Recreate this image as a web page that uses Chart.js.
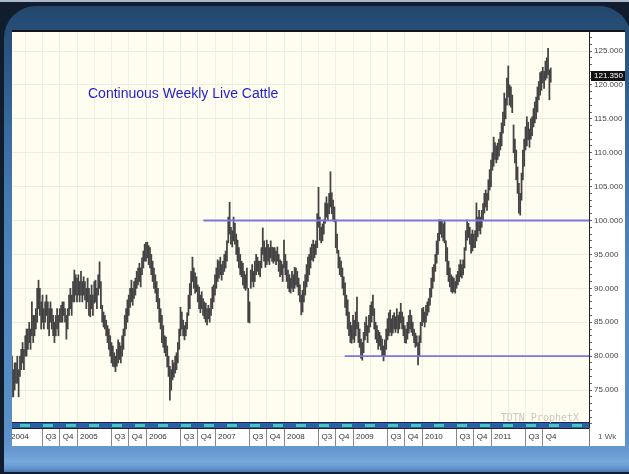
<!DOCTYPE html>
<html>
<head>
<meta charset="utf-8">
<script src="https://cdn.jsdelivr.net/npm/chart.js@4/dist/chart.umd.min.js"></script>
<style>
  html, body { margin: 0; padding: 0; background: #101b2a; }
  #slide { position: relative; width: 629px; height: 474px; overflow: hidden; background: #111c2c; }
  #panel { position: absolute; left: 4px; top: 6px; width: 627px; height: 466px;
           border-radius: 32px 32px 0 0;
           background: linear-gradient(to bottom, #23476c 0px, #26507b 30px, #3a6ca3 130px, #4f86bf 260px,
                                       #5b90c8 430px, #6699cf 445px, #77a8dc 456px, #6396cc 462px, #4677b0 466px); }
  #topline { position: absolute; left: 0; top: 0; width: 629px; height: 2px; background: #a9b9c9; }
  #c { position: absolute; left: 12px; top: 30px; }
</style>
</head>
<body>
<div id="slide">
  <div id="panel"></div>
  <div id="topline"></div>
  <canvas id="c" width="613" height="416"></canvas>
</div>
<script>
// ---------- text ----------
const titleText = 'Continuous Weekly Live Cattle';
const watermarkText = 'TDTN ProphetX';
const periodText = '1 Wk';

// ---------- categories (weekly bars) ----------
const firstYear = 2004;
const firstWeek = 3;          // week number of the first bar within 2004
const weeksPerYear = 52;
const tickYears = [2004, 2005, 2006, 2007, 2008, 2009, 2010, 2011];
const quarterNames = ['', '', 'Q3', 'Q4'];   // Q1 shows the year, Q2 has no label

// ---------- weekly [low, high] ranges ----------
const range2004 = [
  [74,80],[74,78],[75,79],[76,79],[76,80],[74,78],[77,80],[78,81],[79,82],[78,81],
  [80,83],[80,84],[81,84],[82,85],[81,84],[83,88],[82,86],[83,86],[84,87],[85,90],
  [87,91.2],[86,90],[84,88],[85,89],[84,87],[85,88],[86,89],[84,88],[83,87],[85,88],
  [84,87],[83,86],[82,85],[83,86],[84,87],[83,86],[85,87],[85,87.5],[85,88],[86,88],
  [85,87],[82.5,86],[84,87],[86,89],[87,90],[86,89],[88,91],[88,92.7],[89,92]
];
const range2005 = [
  [88,91.5],[89,92],[88,91],[89,92.5],[88,91],[89,91.7],[88.3,91],[87,90],[88,91.5],[86,90],
  [85.8,89],[87,90.5],[86,89],[87.8,91],[88,91.2],[87,90],[89,92],[90,93.9],[87,91],[85,87.5],
  [84.3,86.5],[84,86],[83,85.3],[82,84.5],[81,84],[80,83],[79,82],[78.5,81.5],[78.4,80.5],[77.7,80],
  [78.5,81],[79,82.4],[79.5,82],[79,81.5],[80,83],[81,84],[83,86],[84,87],[85,88.3],[86,89],
  [87.2,90],[88,91.2],[87.5,90],[88.5,91],[89,91.5],[90,92.5],[90.5,93],[91,93.7],[90.2,93],[92,94.5],
  [93,95.5],[94,96.5]
];
const range2006 = [
  [94,96.8],[94.5,96.8],[93.5,96.3],[93,96],[92,95],[91,94],[90,93],[89.3,92],[88,91],[87,90],
  [85,88.5],[84,87],[82,86],[81.3,84.5],[80.5,83],[80,82.8],[78.4,81.5],[77,80],[73.5,78.5],[75,78],
  [76.5,79.4],[76.9,79],[77.5,80],[78,80.5],[79,82],[81,84],[83,87.2],[84,86.5],[83,85.3],[82.4,84.5],
  [83,85],[84,86.4],[86,89],[87,90.7],[89,92.5],[91,94.6],[90,93],[89.3,92.3],[89.5,91.7],[88,90.5],
  [87,90.2],[86.4,89],[87,89.5],[86,88.5],[85.5,88],[85,87.8],[84.6,87],[85.5,87.5],[85,87],[86,88.5],
  [87,90.2],[88,90.5]
];
const range2007 = [
  [89,92],[90,93],[91,94.2],[91.5,94],[92,94.6],[91.2,93.5],[92,94],[92.5,95],[93,95.5],[94,97],
  [96.7,100.5],[98,102.7],[96.5,99],[96.1,98.5],[97,100.5],[96.5,99.6],[95,98],[94,97.1],[93,96],[92,95],
  [91.7,94],[90.5,93.7],[90,92.5],[89.7,92],[90,93],[85,90],[84.9,88],[90,92.7],[91,93.5],[90.2,92.5],
  [91,94],[92,95],[92.5,94.6],[92,94],[91.7,94],[93,96],[95,98.9],[94,97],[93.1,96],[93.5,97.1],
  [94,96.5],[93.5,96],[94.5,97],[94,96.1],[93.7,96],[94,96],[93.5,95.5],[94,96.1],[92.5,95],[91.7,94.2],
  [92,94],[91,93.5]
];
const range2008 = [
  [93,97.1],[92,95],[91,94],[90,92.7],[89.5,92],[89.3,91.5],[90,92.5],[89.5,92],[90,93.1],[90.5,93],
  [90.2,92.5],[89,91.5],[88,90.5],[86.1,89],[86.5,89.7],[88,91],[89,92],[90.2,93.5],[91,94.6],[92,95],
  [93,96],[94.2,96.5],[94,97.1],[94.5,96.5],[95,97],[96,101],[99,104.9],[97.1,100.5],[96.7,99],[97,99.5],
  [98,100.1],[99.6,102.6],[100.5,103.5],[100,102.5],[101,104],[102,107.2],[101,104.1],[100.1,103],[99.8,102],[96,100.1],
  [95.2,98],[93,95.6],[92,94.6],[91.7,94],[90,93],[89,91.7],[87.2,90.8],[86,89],[84,88.3],[83,86.5],
  [82,85],[81.9,84.5]
];
const range2009 = [
  [82.5,86],[82,85.3],[83,86.5],[84,88.7],[82,85],[81.3,84],[79.7,82.5],[79.4,82],[80.5,83.5],[82.4,85],
  [83,85.8],[82,84.5],[83.5,86],[84.3,87.5],[85,88],[86,89],[84,87],[82.5,85],[82,84.5],[81,83.8],
  [81.5,83.5],[80.9,83],[80,82.5],[79.3,81.5],[80,82.4],[81,84],[82.4,85.5],[83,86.4],[83.5,86.8],[83,85.5],
  [83.4,86],[84,86.4],[83.5,85.8],[84,87],[83.4,86],[84,86.5],[84.9,87.8],[84,86.5],[83,85.8],[82,84.5],
  [81.9,84],[82.5,85],[83.4,86],[84,86.8],[83.5,86],[83,85],[82,84],[81.3,83.4],[81.5,83],[78.7,82],
  [80,83],[82,85]
];
const range2010 = [
  [84.5,87],[85,87.2],[84.3,86.5],[85,87.5],[86,88],[86.5,88.5],[87.5,90],[88.7,91.5],[90,93.1],[91,93.5],
  [92.5,95],[93.7,97],[95,98.1],[97,100.1],[98,100.1],[97.5,100],[97,99.5],[96.7,100],[94,97],[92,96],
  [91,94],[90.2,93],[89.5,92],[89.3,91.7],[89.5,91.5],[89.3,91],[90,92],[90.5,92.5],[91,93.5],[91.7,94.2],
  [91.5,93.5],[92,94.2],[93,96],[95.6,98.5],[97.1,100.1],[97.5,99.6],[96.5,99],[95.2,98],[95.5,98.6],[96,98],
  [96,98.5],[97,102.6],[97.6,100.5],[98.5,101.5],[98,100.5],[99,101.5],[100,102.5],[101.1,104],[102,104.5],[101.5,104],
  [103,106],[104.5,107.5]
];
const range2011 = [
  [105,108.9],[107.4,110],[108,112.3],[109,111.5],[108.5,111],[109,111.4],[109.5,112],[110.4,113],[111,114.4],[112.9,116],
  [114,118.8],[115,118],[117,121],[118.2,122.8],[117,120],[116.7,119.7],[115.9,118.5],[110,114.1],[108.5,112],[106,110.4],
  [104,107.9],[101.1,105.5],[100.8,104],[103,107],[106,110.4],[108,112],[110.4,113.8],[111,115.3],[111.9,114.5],[110.8,113.5],
  [112,115],[112.5,115.3],[113.8,116.5],[114.4,117.5],[115,118.2],[116,119.7],[117.8,120.5],[118.5,121.8],[119.2,122],[120.3,122.6],
  [119.5,122],[120.7,123.5],[121,124],[121.5,125.4],[117.8,122.2],[120.4,122.5]
];
const lastClose = 121.35;

// ---------- drawn horizontal levels ----------
const resistancePrice = 100;
const resistanceFrom = 2006.83;   // decimal year where the line starts
const supportPrice = 80;
const supportFrom = 2008.88;

// ---------- axis bounds ----------
const xMin = 2004.058, xMax = 2012.42;
const yMin = 69.4, yMax = 127.95;

// ---------- build datasets ----------
const allRanges = [].concat(range2004, range2005, range2006, range2007, range2008, range2009, range2010, range2011);
const barData = allRanges.map((r, i) => ({ x: firstYear + (firstWeek + i) / weeksPerYear, y: r }));
const quarterTicks = [];
tickYears.forEach(y => { for (let q = 0; q < 4; q++) quarterTicks.push(y + q / 4); });

const frac = v => Math.round((v - Math.floor(v)) * 100) / 100;

const decor = {
  id: 'decor',
  beforeDraw(chart) {
    const { ctx, chartArea: a, width, height } = chart;
    ctx.save();
    ctx.fillStyle = '#ffffff';
    ctx.fillRect(0, 0, width, height);
    ctx.fillStyle = '#fffcf0';
    ctx.fillRect(a.left, a.top, a.right - a.left, a.bottom - a.top);
    ctx.restore();
  },
  beforeDatasetsDraw(chart) {
    const { ctx, chartArea: a } = chart;
    ctx.save();
    // bottom stripe of the plot
    const sy = a.bottom - 6;
    ctx.fillStyle = '#2b5ea6';
    ctx.fillRect(a.left, sy, a.right - a.left, 6);
    ctx.fillStyle = '#46c8c0';
    for (let x = a.left + 8; x < a.right - 4; x += 23) ctx.fillRect(x, sy + 2, 10, 3);
    ctx.fillStyle = '#142a48';
    ctx.fillRect(a.left, sy, a.right - a.left, 1);
    // title
    ctx.font = '14px "Liberation Sans", Arial, sans-serif';
    ctx.fillStyle = '#1f1fd0';
    ctx.textBaseline = 'middle';
    ctx.textAlign = 'left';
    ctx.fillText(titleText, a.left + 76, a.top + 63);
    // watermark
    ctx.font = '10px "DejaVu Sans Mono", monospace';
    ctx.fillStyle = '#cdc8bf';
    ctx.textAlign = 'right';
    ctx.fillText(watermarkText, a.right - 10, a.bottom - 10);
    ctx.restore();
  },
  afterDraw(chart) {
    const { ctx, chartArea: a, width, height } = chart;
    const ys = chart.scales.y;
    ctx.save();
    // top frame line
    ctx.fillStyle = '#151515';
    ctx.fillRect(0, 0, width, 2);
    // last price box
    const py = Math.round(ys.getPixelForValue(lastClose));
    ctx.fillStyle = '#111111';
    ctx.fillRect(a.right + 2, py - 5, width - a.right - 2, 10);
    ctx.fillStyle = '#ffffff';
    ctx.font = '8px "Liberation Sans", Arial, sans-serif';
    ctx.textBaseline = 'middle';
    ctx.textAlign = 'left';
    ctx.fillText(lastClose.toFixed(3), a.right + 5, py);
    // period cell
    ctx.fillStyle = '#777777';
    ctx.fillRect(a.right, a.bottom, 1, height - a.bottom);
    ctx.fillStyle = '#555555';
    ctx.fillText(periodText, a.right + 9, a.bottom + 9);
    ctx.restore();
  }
};

new Chart(document.getElementById('c'), {
  type: 'bar',
  data: {
    datasets: [
      {
        type: 'line',
        data: [{ x: resistanceFrom, y: resistancePrice }, { x: xMax, y: resistancePrice }],
        borderColor: '#7878e4', borderWidth: 1.8, pointRadius: 0, fill: false
      },
      {
        type: 'line',
        data: [{ x: supportFrom, y: supportPrice }, { x: xMax, y: supportPrice }],
        borderColor: '#7878e4', borderWidth: 1.8, pointRadius: 0, fill: false
      },
      {
        type: 'bar',
        data: barData,
        backgroundColor: '#444444',
        borderWidth: 0,
        barThickness: 1.1
      }
    ]
  },
  options: {
    responsive: false,
    animation: false,
    devicePixelRatio: 1,
    layout: { padding: { top: 1, left: 0, right: 0, bottom: 0 } },
    plugins: { legend: { display: false }, tooltip: { enabled: false }, title: { display: false } },
    scales: {
      x: {
        type: 'linear',
        position: 'bottom',
        min: xMin, max: xMax,
        offset: false,
        afterBuildTicks: s => { s.ticks = quarterTicks.map(v => ({ value: v })); },
        afterFit: s => { s.height = 18; s.paddingLeft = 0; s.paddingRight = 0; },
        ticks: {
          autoSkip: false, maxRotation: 0, minRotation: 0,
          align: 'start', labelOffset: 3, padding: -14,
          font: { family: '"Liberation Sans", Arial, sans-serif', size: 8 },
          color: '#333333',
          callback: v => {
            const f = frac(v);
            if (f === 0) return String(Math.round(v));
            return quarterNames[Math.round(f * 4)];
          }
        },
        grid: {
          offset: false,
          drawOnChartArea: true,
          color: '#f2eee2',
          tickLength: 18,
          tickColor: ctx => (frac(ctx.tick.value) === 0.25 ? 'rgba(0,0,0,0)' : '#8a8a8a')
        },
        border: { display: true, color: '#222222', width: 1 }
      },
      y: {
        type: 'linear',
        position: 'right',
        min: yMin, max: yMax,
        afterFit: s => { s.width = 36; s.paddingTop = 0; s.paddingBottom = 0; },
        ticks: {
          stepSize: 1, autoSkip: false, includeBounds: false, padding: 2,
          font: { family: '"Liberation Sans", Arial, sans-serif', size: 8 },
          color: '#444444',
          callback: v => (v % 5 === 0 && v > 70 ? v.toFixed(3) : '')
        },
        grid: {
          color: ctx => (ctx.tick.value % 5 === 0 ? '#f0ebde' : 'rgba(0,0,0,0)'),
          tickLength: 3,
          tickColor: '#666666'
        },
        border: { display: true, color: '#222222', width: 1 }
      }
    }
  },
  plugins: [decor]
});
</script>
</body>
</html>
